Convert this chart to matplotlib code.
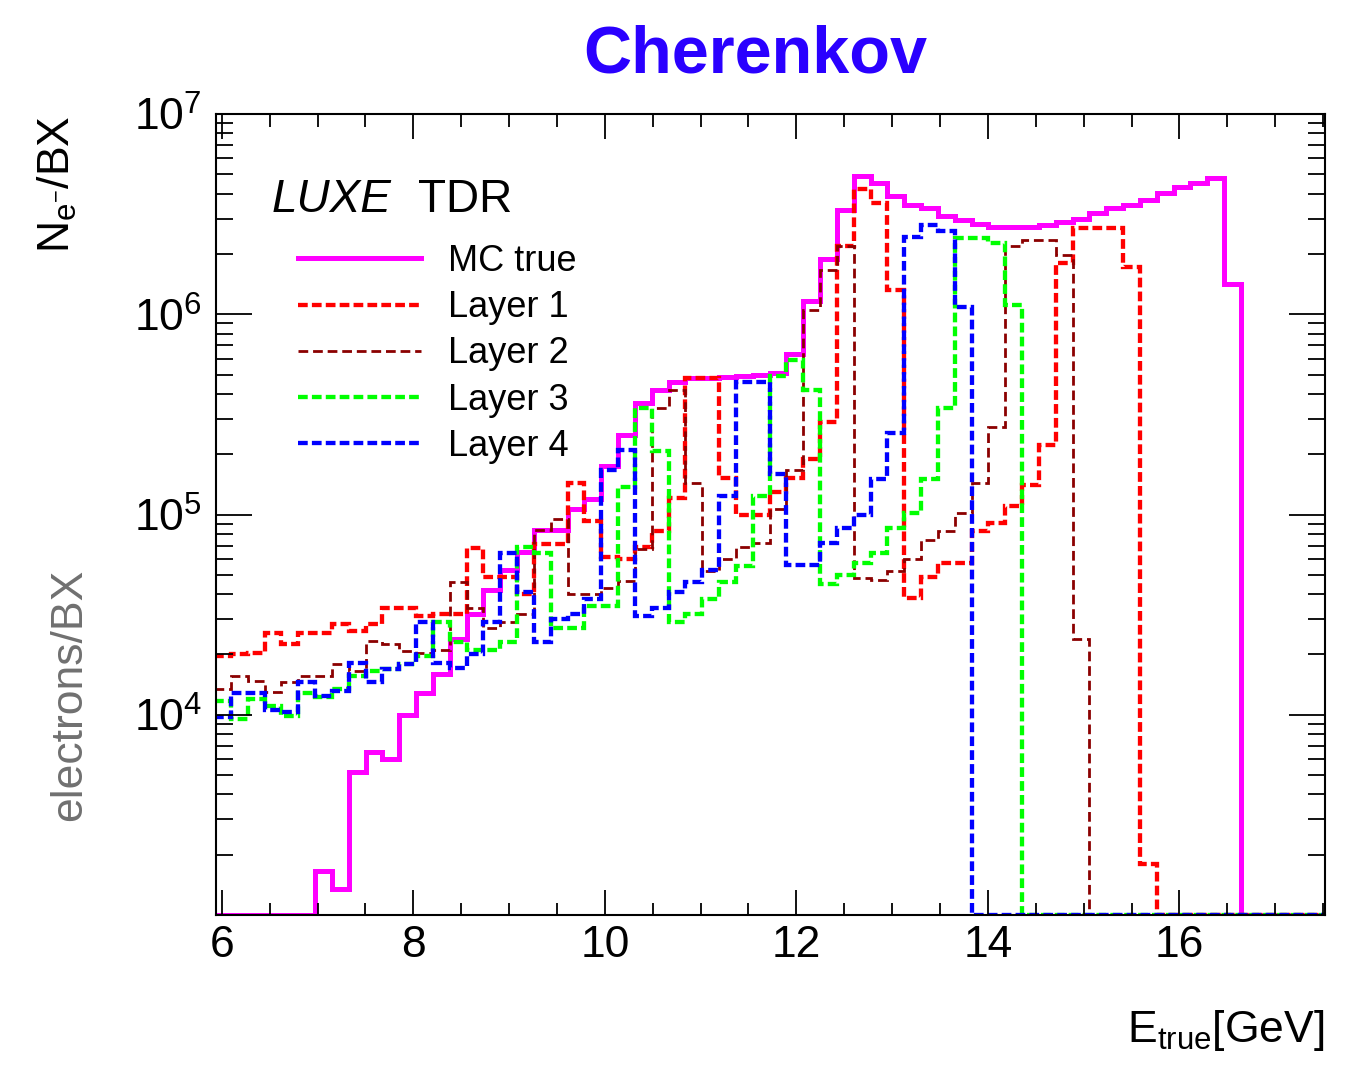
import numpy as np
import matplotlib
matplotlib.use('Agg')
import matplotlib.pyplot as plt
from matplotlib.ticker import MultipleLocator, LogLocator, NullFormatter

plt.rcParams['font.family'] = 'Liberation Sans'
plt.rcParams['mathtext.fontset'] = 'custom'
plt.rcParams['mathtext.rm'] = 'Liberation Sans'
plt.rcParams['mathtext.it'] = 'Liberation Sans:italic'
plt.rcParams['mathtext.bf'] = 'Liberation Sans:bold'
plt.rcParams['lines.scale_dashes'] = False

# histogram binning (GeV)
e_min, e_max, n_bins = 5.92, 17.52, 66
edges = np.linspace(e_min, e_max, n_bins + 1)

# electrons per bunch crossing, one entry per bin
mc_true = [0, 0, 0, 0, 0, 0, 1.66e3, 1.35e3, 5.2e3, 6.5e3,
           6.0e3, 1.0e4, 1.29e4, 1.6e4, 2.4e4, 3.2e4, 4.2e4, 5.3e4, 6.5e4, 8.4e4,
           8.4e4, 1.06e5, 1.19e5, 1.74e5, 2.5e5, 3.6e5, 4.2e5, 4.6e5, 4.8e5, 4.8e5,
           4.85e5, 4.9e5, 4.95e5, 5.1e5, 6.3e5, 1.16e6, 1.88e6, 3.3e6, 4.9e6, 4.5e6,
           3.9e6, 3.5e6, 3.4e6, 3.1e6, 2.96e6, 2.83e6, 2.72e6, 2.72e6, 2.72e6, 2.8e6,
           2.9e6, 3.0e6, 3.2e6, 3.4e6, 3.5e6, 3.7e6, 4.05e6, 4.3e6, 4.5e6, 4.8e6,
           1.41e6, 0, 0, 0, 0, 0]

layer1 = [1.97e4, 2.0e4, 2.04e4, 2.57e4, 2.25e4, 2.57e4, 2.57e4, 2.83e4, 2.62e4, 2.83e4,
          3.43e4, 3.43e4, 3.1e4, 3.2e4, 3.2e4, 6.8e4, 4.9e4, 4.9e4, 4.0e4, 7.1e4,
          7.1e4, 1.44e5, 9.3e4, 6.1e4, 6.0e4, 6.9e4, 8.3e4, 1.21e5, 4.8e5, 4.8e5,
          1.52e5, 1.0e5, 1.0e5, 1.3e5, 1.52e5, 1.9e5, 2.9e5, 2.2e6, 4.2e6, 3.6e6,
          1.32e6, 3.84e4, 4.9e4, 5.7e4, 5.7e4, 8.3e4, 9.1e4, 1.1e5, 1.4e5, 2.23e5,
          1.8e6, 2.69e6, 2.69e6, 2.69e6, 1.73e6, 1.8e3, 0, 0, 0, 0,
          0, 0, 0, 0, 0, 0]

layer2 = [1.35e4, 1.56e4, 1.47e4, 1.3e4, 1.45e4, 1.56e4, 1.56e4, 1.79e4, 1.66e4, 2.33e4,
          2.25e4, 2.08e4, 2.04e4, 2.1e4, 4.6e4, 3.4e4, 2.7e4, 2.9e4, 3.2e4, 8.4e4,
          9.5e4, 4.0e4, 4.0e4, 4.3e4, 4.65e4, 6.7e4, 3.4e5, 4.2e5, 1.44e5, 5.2e4,
          6.0e4, 6.9e4, 7.2e4, 1.06e5, 1.67e5, 1.05e6, 1.67e6, 2.18e6, 4.8e4, 4.7e4,
          5.2e4, 6.0e4, 7.5e4, 8.3e4, 1.02e5, 1.44e5, 2.75e5, 2.2e6, 2.35e6, 2.35e6,
          1.98e6, 2.4e4, 0, 0, 0, 0, 0, 0, 0, 0,
          0, 0, 0, 0, 0, 0]

layer3 = [1.17e4, 9.5e3, 1.2e4, 1.1e4, 9.9e3, 1.29e4, 1.22e4, 1.34e4, 1.56e4, 1.66e4,
          1.69e4, 1.79e4, 1.96e4, 2.9e4, 2.3e4, 2.1e4, 2.1e4, 2.3e4, 6.9e4, 6.4e4,
          2.7e4, 2.7e4, 3.5e4, 3.5e4, 1.37e5, 3.4e5, 2.07e5, 2.9e4, 3.2e4, 3.8e4,
          4.6e4, 5.5e4, 1.23e5, 4.9e5, 5.9e5, 4.2e5, 4.5e4, 5.0e4, 5.7e4, 6.4e4,
          8.6e4, 1.02e5, 1.5e5, 3.4e5, 2.4e6, 2.4e6, 2.26e6, 1.11e6, 0, 0,
          0, 0, 0, 0, 0, 0, 0, 0, 0, 0,
          0, 0, 0, 0, 0, 0]

layer4 = [9.7e3, 1.29e4, 1.29e4, 1.06e4, 1.03e4, 1.45e4, 1.24e4, 1.31e4, 1.82e4, 1.45e4,
          1.69e4, 1.79e4, 2.9e4, 1.82e4, 1.72e4, 2.0e4, 2.9e4, 6.4e4, 4.1e4, 2.3e4,
          3.0e4, 3.2e4, 3.8e4, 1.67e5, 2.1e5, 3.1e4, 3.4e4, 4.1e4, 4.6e4, 5.3e4,
          1.23e5, 4.6e5, 4.6e5, 1.6e5, 5.6e4, 5.6e4, 7.2e4, 8.6e4, 1.0e5, 1.5e5,
          2.55e5, 2.44e6, 2.8e6, 2.59e6, 1.09e6, 0, 0, 0, 0, 0,
          0, 0, 0, 0, 0, 0, 0, 0, 0, 0,
          0, 0, 0, 0, 0, 0]

labels = ['MC true', 'Layer 1', 'Layer 2', 'Layer 3', 'Layer 4']
colors = ['#ff00ff', '#ff0000', '#8b0000', '#00ff00', '#0000ff']
widths = [3.6, 3.1, 2.0, 3.1, 3.1]
styles = ['-', (0, (7, 3)), (0, (7, 3.5)), (0, (7, 3)), (0, (7, 3))]

y_min, y_max = 1e3, 1e7

fig = plt.figure(figsize=(13.58, 10.66), dpi=100)
ax = fig.add_axes([216 / 1358, 1 - 915 / 1066, 1109 / 1358, 801 / 1066])

for vals, lab, col, lw, ls in zip([mc_true, layer1, layer2, layer3, layer4],
                                  labels, colors, widths, styles):
    # empty bins sit on the bottom of the frame like in ROOT
    h = np.clip(np.array(vals, dtype=float), y_min, None)
    ax.stairs(h, edges, baseline=None, color=col, lw=lw, linestyle=ls, label=lab)

ax.set_yscale('log')
ax.set_xlim(5.94, e_max)
ax.set_ylim(y_min, y_max)

ax.xaxis.set_major_locator(MultipleLocator(2))
ax.xaxis.set_minor_locator(MultipleLocator(0.5))
ax.set_yticks([1e4, 1e5, 1e6, 1e7])
ax.yaxis.set_minor_locator(LogLocator(base=10, subs=np.arange(2, 10), numticks=20))
ax.yaxis.set_minor_formatter(NullFormatter())

ax.tick_params(which='both', direction='in', top=True, right=True, width=1.3)
ax.tick_params(axis='x', which='major', length=18, labelsize=32, pad=7)
ax.tick_params(axis='x', which='minor', length=9)
ax.tick_params(axis='y', which='major', length=26, labelsize=32, pad=10)
ax.tick_params(axis='y', which='minor', length=12.5)
for sp in ax.spines.values():
    sp.set_linewidth(1.5)

ax.legend(loc='upper left', bbox_to_anchor=(298 / 1358, 1 - 244 / 1066),
          bbox_transform=fig.transFigure, frameon=False, fontsize=26,
          handlelength=3.4, handletextpad=0.75, labelspacing=0.31,
          borderpad=0, borderaxespad=0)

fig.text(0.556, 0.948, 'Cherenkov', color='#2a00ff', fontsize=48,
         fontweight='bold', ha='center', va='center')
fig.text(272 / 1358, 1 - 200 / 1066, 'LUXE', style='italic', fontsize=33, va='center')
fig.text(418 / 1358, 1 - 200 / 1066, 'TDR', fontsize=33, va='center')

fig.text(1325 / 1358, 1 - 1042 / 1066, r'E$_{\mathregular{true}}$[GeV]',
         fontsize=32, ha='right', va='baseline')
fig.text(57 / 1358, 1 - 115 / 1066, r'N$_{\mathregular{e^{-}}}$/BX',
         rotation=90, fontsize=32, ha='center', va='top')
fig.text(70 / 1358, 1 - 695 / 1066, 'electrons/BX', rotation=90, fontsize=32,
         color='#707070', ha='center', va='center')

fig.savefig('out.png', dpi=100)
